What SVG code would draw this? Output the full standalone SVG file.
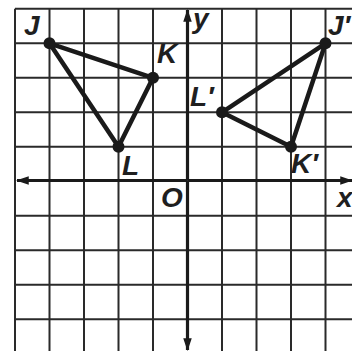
<svg xmlns="http://www.w3.org/2000/svg" width="352" height="351" viewBox="0 0 352 351">
<style>
.grid line{stroke:#2a2a2a;stroke-width:2}
.axis{stroke:#1a1a1a;stroke-width:3.2;fill:none}
.tri{stroke:#1a1a1a;stroke-width:4.5;fill:none;stroke-linejoin:round}
.dot{fill:#1a1a1a}
.lbl{font-family:"Liberation Sans",Arial,sans-serif;font-weight:bold;font-style:italic;font-size:28px;fill:#1f1f1f}
</style>
<defs>
<marker id="ah" viewBox="0 0 12 8" refX="11" refY="4" markerWidth="4" markerHeight="2.7" orient="auto" markerUnits="strokeWidth">
<path d="M0,0 L12,4 L0,8 Z" fill="#1a1a1a"/>
</marker>
</defs>
<rect width="352" height="351" fill="#fff"/>
<g class="grid" id="grid">
<line x1="15" y1="8.8" x2="15" y2="351"/>
<line x1="49.5" y1="8.8" x2="49.5" y2="351"/>
<line x1="84" y1="8.8" x2="84" y2="351"/>
<line x1="118.5" y1="8.8" x2="118.5" y2="351"/>
<line x1="153" y1="8.8" x2="153" y2="351"/>
<line x1="222" y1="8.8" x2="222" y2="351"/>
<line x1="256.5" y1="8.8" x2="256.5" y2="351"/>
<line x1="291" y1="8.8" x2="291" y2="351"/>
<line x1="325.5" y1="8.8" x2="325.5" y2="351"/>
<line x1="15" y1="8.8" x2="352" y2="8.8"/>
<line x1="15" y1="43.3" x2="352" y2="43.3"/>
<line x1="15" y1="77.8" x2="352" y2="77.8"/>
<line x1="15" y1="112.3" x2="352" y2="112.3"/>
<line x1="15" y1="146.8" x2="352" y2="146.8"/>
<line x1="15" y1="215.8" x2="352" y2="215.8"/>
<line x1="15" y1="250.3" x2="352" y2="250.3"/>
<line x1="15" y1="284.8" x2="352" y2="284.8"/>
<line x1="15" y1="319.3" x2="352" y2="319.3"/>
</g>
<g id="connectors">
<line class="axis" x1="187.5" y1="180.5" x2="352" y2="180.5" marker-end="url(#ah)"/>
<line class="axis" x1="187.5" y1="180.5" x2="17" y2="180.5" marker-end="url(#ah)"/>
<line class="axis" x1="187.5" y1="180.5" x2="187.5" y2="10" marker-end="url(#ah)"/>
<line class="axis" x1="187.5" y1="180.5" x2="187.5" y2="350" marker-end="url(#ah)"/>
<polygon class="tri" points="49.5,43.3 153,77.8 118.5,146.8"/>
<polygon class="tri" points="325.5,43.3 291,146.8 222,112.3"/>
</g>
<g id="J"><circle class="dot" cx="49.5" cy="43.3" r="6"/><text class="lbl" x="24" y="35">J</text></g>
<g id="K"><circle class="dot" cx="153" cy="77.8" r="6"/><text class="lbl" x="157" y="63">K</text></g>
<g id="L"><circle class="dot" cx="118.5" cy="146.8" r="6"/><text class="lbl" x="122" y="175">L</text></g>
<g id="J2"><circle class="dot" cx="325.5" cy="43.3" r="6"/><text class="lbl" x="328" y="35">J′</text></g>
<g id="L2"><circle class="dot" cx="222" cy="112.3" r="6"/><text class="lbl" x="190" y="106">L′</text></g>
<g id="K2"><circle class="dot" cx="291" cy="146.8" r="6"/><text class="lbl" x="291" y="173">K′</text></g>
<g id="O"><text class="lbl" x="161" y="207">O</text></g>
<g id="xlabel"><text class="lbl" x="337" y="207">x</text></g>
<g id="ylabel"><text class="lbl" x="193" y="28">y</text></g>
</svg>
